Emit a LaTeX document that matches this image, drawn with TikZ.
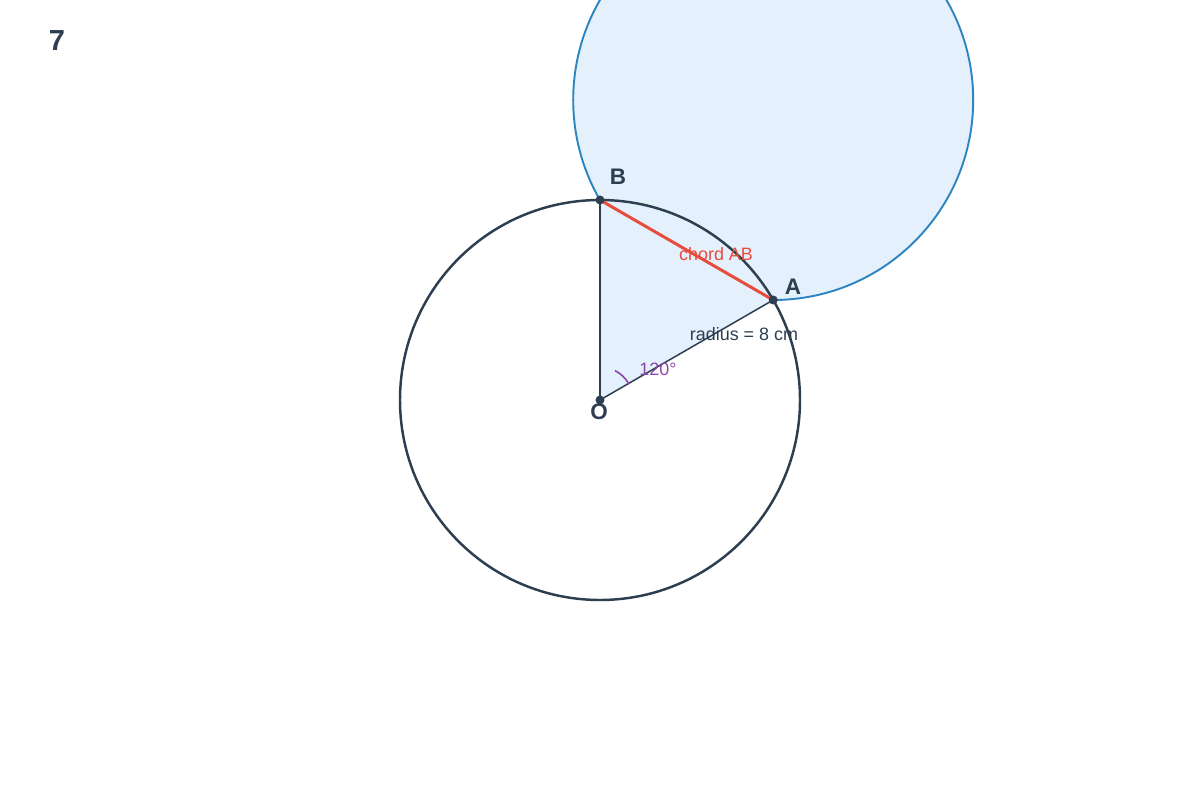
\documentclass[tikz,border=0pt]{standalone}
\usepackage{fontspec}
\setmainfont{Liberation Sans}
\usepackage{xcolor}
\definecolor{ink}{HTML}{2C3E50}
\definecolor{chordred}{HTML}{E74C3C}
\definecolor{ringblue}{HTML}{2E86C1}
\definecolor{paleblue}{HTML}{E4F0FC}
\definecolor{anglepurple}{HTML}{8E44AD}

\begin{document}
\begin{tikzpicture}[
  x=0.02cm, y=-0.02cm,
  dot/.style={circle,fill=ink,inner sep=0pt,minimum size=9*0.02cm},
  ptlabel/.style={font=\fontsize{12.8}{15}\selectfont\bfseries,text=ink},
  small/.style={font=\fontsize{10.2}{12}\selectfont}
]
\useasboundingbox (0,0) rectangle (1200,800);
\node[font=\fontsize{16.5}{19}\selectfont\bfseries,text=ink] (num) at (57,41) {7};
% outer circle through A
\begin{scope}
  \clip (0,0) rectangle (1200,800);
  \fill[paleblue] (773.2,100) circle (200);
  \draw[ringblue,line width=1.1pt] (773.2,100) circle (200);
\end{scope}
\coordinate (O) at (600,400);
\coordinate (B) at (600,200);
\coordinate (A) at (773.2,300);
% sector
\fill[paleblue] (O) -- (B) arc[start angle=-90,end angle=-30,radius=200] -- cycle;
\draw[ink,line width=0.85pt] (O) -- (B);
\draw[ink,line width=0.85pt] (O) -- (A);
\draw[ink,line width=1.4pt] (O) circle (200);
\draw[chordred,line width=1.7pt] (B) -- (A);
\draw[anglepurple,line width=0.9pt] (O) ++(-29:33) arc[start angle=-29,end angle=-63,radius=33];
\node[dot] (o) at (O) {};
\node[dot] (b) at (B) {};
\node[dot] (a) at (A) {};
\node[ptlabel] (Blab) at (618,177) {B};
\node[ptlabel] (Alab) at (793,287) {A};
\node[ptlabel] (Olab) at (599,412) {O};
\node[small,text=chordred] (chord) at (716,254) {chord AB};
\node[small,text=ink] (rad) at (744,334) {radius = 8 cm};
\node[small,text=anglepurple] (ang) at (658,369) {120°};
\end{tikzpicture}
\end{document}
